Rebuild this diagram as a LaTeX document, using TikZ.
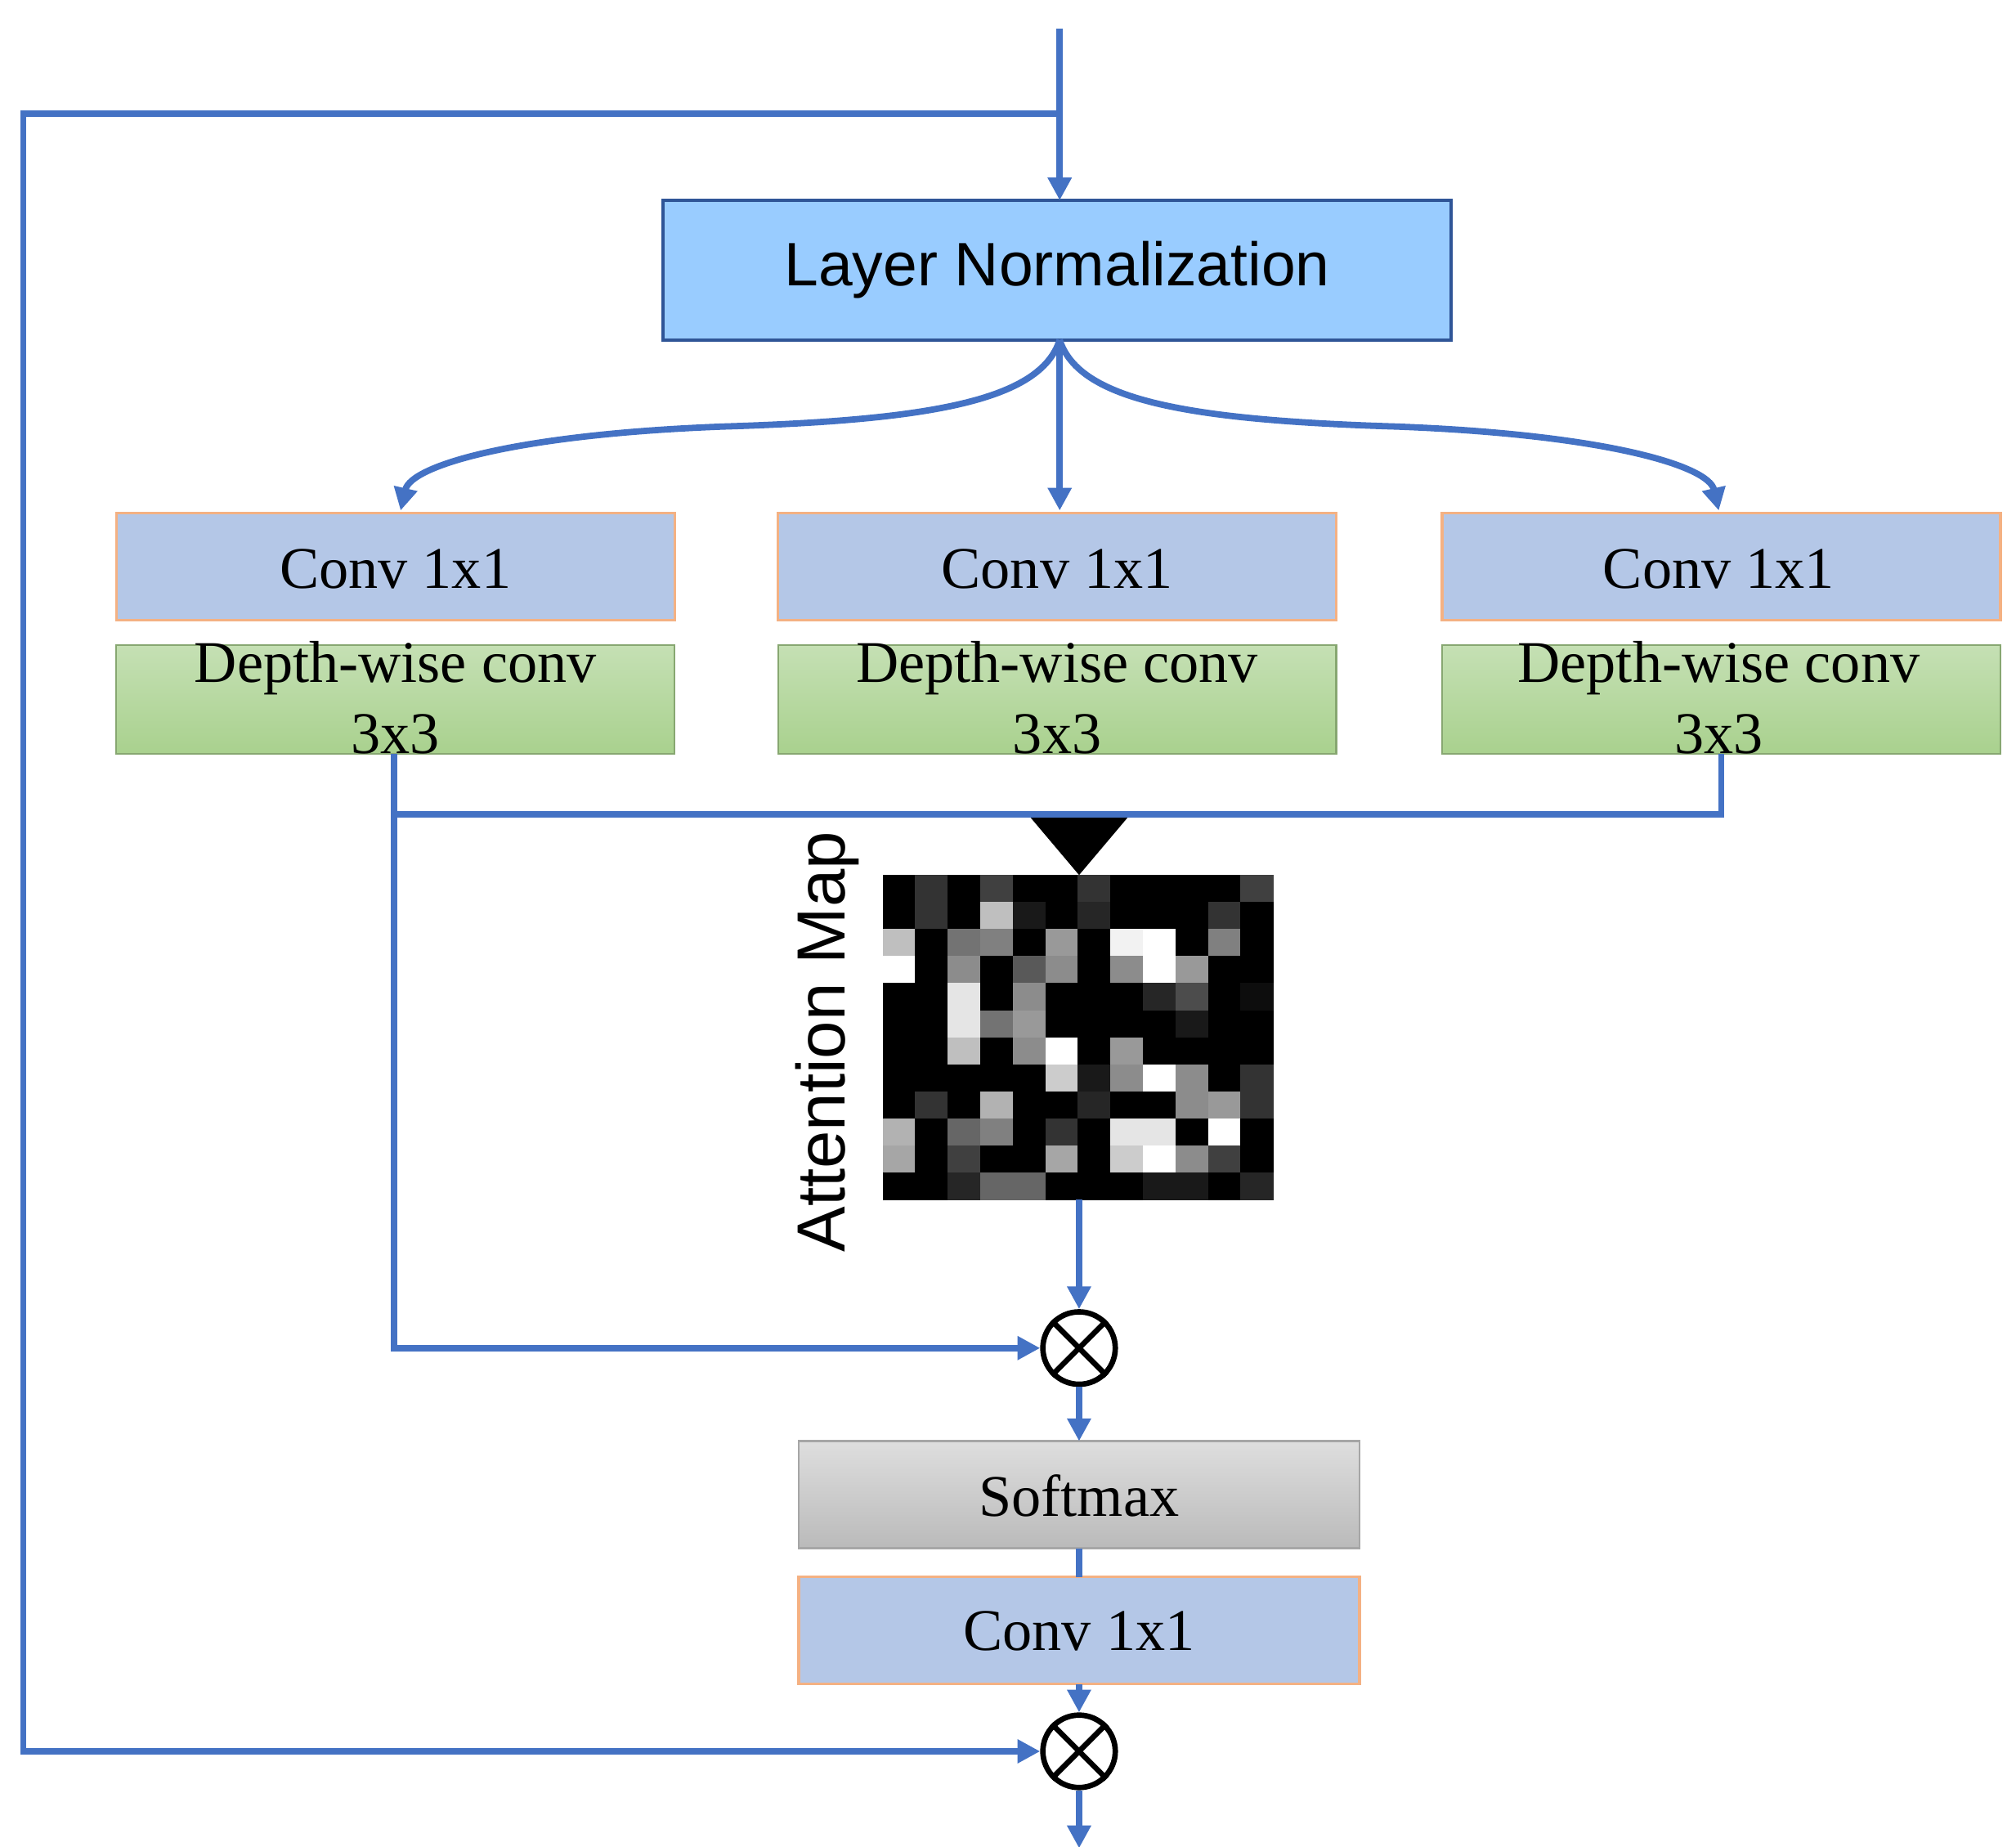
\documentclass[tikz,border=0pt]{standalone}
\usepackage{fontspec}
\setmainfont{Liberation Serif}
\newfontfamily\sansf{Liberation Sans}
\usetikzlibrary{arrows.meta}
\definecolor{lnb}{HTML}{99CCFF}
\definecolor{lnd}{HTML}{2F5597}
\definecolor{convb}{HTML}{B4C7E7}
\definecolor{convd}{HTML}{F4B183}
\definecolor{gtop}{HTML}{C5E0B4}
\definecolor{gbot}{HTML}{A9D18E}
\definecolor{gd}{HTML}{70AD47}
\definecolor{line}{HTML}{4472C4}
\begin{document}
\begin{tikzpicture}[x=0.01cm,y=-0.01cm,
  conn/.style={line, line width=1.4pt},
  arr/.style={conn,-{Triangle[length=5pt,width=5pt]}},
  conv/.style={draw=convd, line width=0.5pt, fill=convb, minimum width=432\pgflinewidth, inner sep=0pt},
  txt/.style={font=\fontsize{13}{15}\selectfont},
  op/.style={circle, draw=black, line width=1.2pt, fill=white, minimum size=0.56cm, inner sep=0pt}]
\useasboundingbox (0,0) rectangle (1560,1429);
% boxes
\fill[lnb] (513,155) rectangle (1123,263);
\draw[lnd, line width=0.7pt] (513,155) rectangle (1123,263);
\node[font=\sansf\fontsize{13.5}{15}\selectfont] (ln) at (818,209) {Layer Normalization};
\coordinate (lns) at (820,263);
\coordinate (lnn) at (820,155);
\foreach \n/\xa/\xb in {l/90/522, m/602/1034, r/1116/1548}{
  \fill[convb] (\xa,397) rectangle (\xb,480);
  \draw[convd, line width=0.6pt] (\xa,397) rectangle (\xb,480);
  \shade[top color=gtop, bottom color=gbot] (\xa,499) rectangle (\xb,583);
  \draw[gbot!80!black, line width=0.4pt] (\xa,499) rectangle (\xb,583);
}
\node[txt] (cl) at (306,440) {Conv 1x1};
\node[txt] (cm) at (818,440) {Conv 1x1};
\node[txt] (cr) at (1330,440) {Conv 1x1};
\node[txt] at (306,517) {Depth-wise conv};
\node[txt] at (818,517) {Depth-wise conv};
\node[txt] at (1330,517) {Depth-wise conv};
\node[txt] at (306,568) {3x3};
\node[txt] at (818,568) {3x3};
\node[txt] at (1330,568) {3x3};
\coordinate (cln) at (310,395);
\coordinate (cmn) at (820,395);
\coordinate (crn) at (1330,395);
\coordinate (dls) at (305,583);
\coordinate (drs) at (1332,583);
% softmax & conv bottom
\shade[top color=black!13, bottom color=black!27] (618,1115) rectangle (1052,1198);
\draw[black!35, line width=0.5pt] (618,1115) rectangle (1052,1198);
\node[txt] (sm) at (835,1157) {Softmax};
\fill[convb] (618,1220) rectangle (1052,1303);
\draw[convd, line width=0.6pt] (618,1220) rectangle (1052,1303);
\node[txt] (cb) at (835,1262) {Conv 1x1};
% attention map
\foreach \row [count=\r from 0] in {
 {0,20,0,25,0,0,20,0,0,0,0,25},
 {0,20,0,75,10,0,15,0,0,0,20,0},
 {75,0,45,50,0,60,0,95,100,0,50,0},
 {100,0,55,0,35,55,0,55,100,60,0,0},
 {0,0,90,0,55,0,0,0,15,30,0,5},
 {0,0,90,45,60,0,0,0,0,10,0,0},
 {0,0,75,0,55,100,0,60,0,0,0,0},
 {0,0,0,0,0,80,10,55,100,55,0,20},
 {0,20,0,70,0,0,15,0,0,55,60,20},
 {70,0,40,50,0,20,0,90,90,0,100,0},
 {65,0,25,0,0,65,0,80,100,55,25,0},
 {0,0,15,40,40,0,0,0,10,10,0,15}}{
  \foreach \v [count=\c from 0] in \row {
    \fill[white!\v!black] (683+\c*25.17,677+\r*20.92) rectangle ++(25.6,21.3);
  }
}
\node[font=\sansf\fontsize{15}{17}\selectfont, rotate=90] (am) at (640,806) {Attention Map};
\coordinate (ams) at (835,928);
\fill[black] (797,632) -- (873,632) -- (835,677) -- cycle;
% operators
\node[op] (o1) at (835,1043) {};
\node[op] (o2) at (835,1355) {};
\draw[line width=1.2pt] (o1.north west) -- (o1.south east) (o1.north east) -- (o1.south west);
\draw[line width=1.2pt] (o2.north west) -- (o2.south east) (o2.north east) -- (o2.south west);
\coordinate (top) at (820,22);
\coordinate (split) at (820,88);
\coordinate (out) at (835,1430);
% connectors
\draw[arr] (top) -- (lnn);
\draw[conn] (split) -- (18,88) -- (18,1355) -- ++(10,0);
\draw[arr] (18,1355) -- (o2.west);
\draw[arr] (lns) -- (cmn);
\draw[arr] (lns) .. controls (805,310) and (720,325) .. (560,330) .. controls (400,336) and (318,360) .. (cln);
\draw[arr] (lns) .. controls (835,310) and (920,325) .. (1080,330) .. controls (1240,336) and (1322,360) .. (crn);
\draw[conn] (dls) -- (305,630) -- (1332,630) -- (drs);
\draw[arr] (305,630) -- (305,1043) -- (o1.west);
\draw[arr] (ams) -- (o1.north);
\draw[arr] (o1.south) -- (sm.north |- 0,1115);
\draw[conn] (835,1198) -- (835,1220);
\draw[arr] (835,1303) -- (o2.north);
\draw[arr] (o2.south) -- (out);
\end{tikzpicture}
\end{document}
